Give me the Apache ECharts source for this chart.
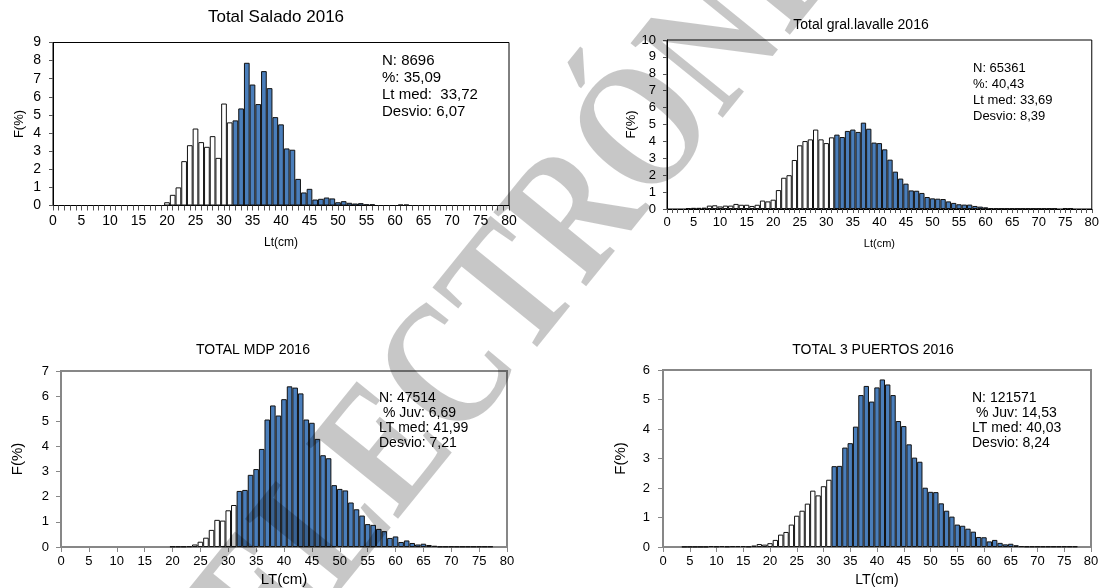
<!DOCTYPE html>
<html><head><meta charset="utf-8">
<script src="https://cdn.jsdelivr.net/npm/echarts@6/dist/echarts.min.js"></script>
<style>html,body{margin:0;padding:0;background:#fff}#c{width:1102px;height:588px}</style>
</head><body><div id="c"></div>
<script>
// Length classes (cm)
const lengths = [0,1,2,3,4,5,6,7,8,9,10,11,12,13,14,15,16,17,18,19,20,21,22,23,24,25,26,27,28,29,30,31,32,33,34,35,36,37,38,39,40,41,42,43,44,45,46,47,48,49,50,51,52,53,54,55,56,57,58,59,60,61,62,63,64,65,66,67,68,69,70,71,72,73,74,75,76,77,78,79,80];
const juvenileLimit = 32;

// F(%) per length class, 0..80 cm
const salado = [0,0,0,0,0,0,0,0,0,0, 0,0,0,0,0,0,0,0,0,0,
  0.18,0.59,1.0,2.45,3.33,4.25,3.5,3.24,3.83,2.63,
  5.63,4.59,4.7,5.36,7.88,6.68,5.6,7.42,6.48,4.88,
  4.48,3.15,3.08,1.47,0.72,0.92,0.33,0.37,0.44,0.39,
  0.18,0.24,0.15,0.11,0.13,0.07,0.07,0,0,0,
  0,0.05,0.05,0,0,0,0,0,0,0, 0,0,0,0,0,0,0,0,0,0, 0];
const lavalle = [0,0,0,0,0.05,0.07,0.07,0.08,0.2,0.22,
  0.15,0.2,0.2,0.3,0.25,0.25,0.18,0.25,0.5,0.45,
  0.55,1.12,1.85,2.0,2.9,3.77,4.02,4.12,4.7,4.12,
  3.9,4.24,4.4,4.26,4.62,4.7,4.56,5.11,4.75,3.93,
  3.9,3.53,2.92,2.21,1.8,1.5,1.1,1.08,0.95,0.71,
  0.63,0.61,0.59,0.45,0.36,0.28,0.26,0.26,0.18,0.14,
  0.1,0.05,0.03,0.03,0.03,0.03,0.03,0.03,0.03,0.03,
  0.03,0.03,0.03,0.03,0,0.05,0.05,0,0,0, 0];
const mdp = [0,0,0,0,0,0,0,0,0,0, 0,0,0,0,0,0,0,0,0,0,
  0.02,0.02,0.02,0.03,0.1,0.21,0.37,0.68,1.08,1.05,
  1.46,1.67,2.23,2.27,2.87,3.1,3.9,5.07,5.63,5.23,
  5.88,6.39,6.34,6.11,5.07,4.94,4.3,3.65,3.53,2.46,
  2.31,2.25,1.77,1.5,1.25,0.91,0.88,0.72,0.63,0.36,
  0.42,0.2,0.26,0.16,0.1,0.13,0.08,0.05,0.02,0.02,
  0.02,0.02,0.02,0.02,0.02,0.02,0.02,0.02,0,0, 0];
const puertos = [0,0,0,0,0.01,0.01,0.01,0.01,0.01,0.03,
  0.02,0.03,0.02,0.03,0.03,0.03,0.02,0.05,0.1,0.08,
  0.13,0.24,0.42,0.51,0.76,1.06,1.23,1.47,1.91,1.75,
  2.06,2.28,2.74,2.75,3.37,3.52,4.08,5.15,5.46,4.93,
  5.41,5.68,5.51,5.15,4.27,4.1,3.48,3.03,2.89,2.01,
  1.87,1.86,1.48,1.23,1.03,0.76,0.72,0.62,0.52,0.34,
  0.33,0.19,0.24,0.14,0.09,0.11,0.06,0.03,0.02,0.02,
  0.02,0.02,0.02,0.02,0.02,0.02,0.02,0.02,0,0, 0];

const titles = ['Total Salado 2016','Total gral.lavalle 2016','TOTAL MDP 2016','TOTAL 3 PUERTOS 2016'];
const xNames = ['Lt(cm)','Lt(cm)','LT(cm)','LT(cm)'];
const yName = 'F(%)';
const yMaxes = [9,10,7,6];
const statsSalado = ['N: 8696','%: 35,09','Lt med:  33,72','Desvio: 6,07'];
const statsLavalle = ['N: 65361','%: 40,43','Lt med: 33,69','Desvio: 8,39'];
const statsMdp = ['N: 47514',' % Juv: 6,69','LT med: 41,99','Desvio: 7,21'];
const statsPuertos = ['N: 121571',' % Juv: 14,53','LT med: 40,03','Desvio: 8,24'];
const watermark = 'ELECTRÓNICA';

const series = [salado, lavalle, mdp, puertos];
const stats = [statsSalado, statsLavalle, statsMdp, statsPuertos];

// layout / style
const FONT = '"Liberation Sans", Arial, sans-serif';
const L = [
  {grid:{left:53,top:42.5,width:456,height:163}, frame:'#000', fw:1, minor:true, xTick:5, yTick:4,
   title:{x:276,y:17,fs:17}, stats:{x:382,y:52,fs:15,lh:17},
   tick:{fs:14, xm:9, ym:12}, xName:{fs:12,gap:31}, yName:{fs:13,gap:27}},
  {grid:{left:667,top:40,width:425,height:169}, frame:'#000', fw:1, minor:true, xTick:4, yTick:4,
   title:{x:861,y:25,fs:14}, stats:{x:973,y:61,fs:13,lh:15.7},
   tick:{fs:13, xm:7, ym:11}, xName:{fs:11,gap:29}, yName:{fs:13,gap:28}},
  {grid:{left:61,top:371,width:446,height:176}, frame:'#878787', fw:2, minor:false, xTick:5, yTick:5,
   title:{x:253,y:350,fs:14}, stats:{x:379,y:390,fs:14,lh:15.3},
   tick:{fs:13, xm:8, ym:12}, xName:{fs:15,gap:25}, yName:{fs:15,gap:36}},
  {grid:{left:663,top:370,width:428,height:177}, frame:'#878787', fw:2, minor:false, xTick:5, yTick:5,
   title:{x:873,y:350,fs:14}, stats:{x:972,y:390,fs:14,lh:15.3},
   tick:{fs:13, xm:8, ym:13}, xName:{fs:14,gap:26}, yName:{fs:15,gap:35}}
];

const option = {
  animation:false,
  backgroundColor:'#fff',
  textStyle:{fontFamily:FONT},
  grid:[], xAxis:[], yAxis:[], series:[], graphic:[]
};

L.forEach((c,i)=>{
  option.grid.push(Object.assign({show:true, borderColor:c.frame, borderWidth:c.fw, backgroundColor:'transparent', containLabel:false}, c.grid));
  option.xAxis.push({
    type:'value', gridIndex:i, min:0, max:80, interval:5,
    axisLine:{show:true, onZero:false, lineStyle:{color:c.frame, width:c.fw}},
    axisTick:{show:true, length:c.xTick, lineStyle:{color:c.frame==='#000'?'#555':'#878787', width:1}},
    minorTick:{show:c.minor, splitNumber:5, length:c.xTick, lineStyle:{color:'#555', width:1}},
    splitLine:{show:false},
    axisLabel:{color:'#000', fontSize:c.tick.fs, margin:c.tick.xm, fontFamily:FONT},
    name:xNames[i], nameLocation:'middle', nameGap:c.xName.gap,
    nameTextStyle:{color:'#000', fontSize:c.xName.fs, fontFamily:FONT}
  });
  option.yAxis.push({
    type:'value', gridIndex:i, min:0, max:yMaxes[i], interval:1,
    axisLine:{show:true, lineStyle:{color:c.frame, width:c.fw}},
    axisTick:{show:true, length:c.yTick, lineStyle:{color:c.frame==='#000'?'#555':'#878787', width:1}},
    splitLine:{show:false},
    axisLabel:{color:'#000', fontSize:c.tick.fs, margin:c.tick.ym, fontFamily:FONT},
    name:yName, nameLocation:'middle', nameGap:c.yName.gap, nameRotate:90,
    nameTextStyle:{color:'#000', fontSize:c.yName.fs, fontFamily:FONT}
  });
  const vals = series[i];
  option.series.push({
    type:'bar', xAxisIndex:i, yAxisIndex:i, barWidth:'100%',
    data: lengths.map((l,k)=>[l, vals[k]]).filter(d=>d[1]>0),
    itemStyle:{
      color: p => p.value[0] < juvenileLimit ? '#ffffff' : '#4a7ebb',
      borderColor:'#111', borderWidth:1
    },
    emphasis:{disabled:true}, silent:true
  });
  option.graphic.push({
    type:'text', x:c.title.x, y:c.title.y, silent:true,
    style:{text:titles[i], fill:'#000', font:c.title.fs+'px '+FONT, align:'center', verticalAlign:'middle'}
  });
  option.graphic.push({
    type:'text', x:c.stats.x, y:c.stats.y, silent:true,
    style:{text:stats[i].join('\n'), fill:'#000', font:c.stats.fs+'px '+FONT, lineHeight:c.stats.lh, align:'left', verticalAlign:'top'}
  });
});

option.graphic.push({
  type:'text', x:578, y:222, rotation:51*Math.PI/180, scaleX:1, scaleY:1.25, z:100, silent:true,
  style:{text:watermark, fill:'rgba(0,0,0,0.22)', font:'bold 145px "Liberation Serif", "Times New Roman", serif', align:'center', verticalAlign:'middle'}
});

const chart = echarts.init(document.getElementById('c'), null, {renderer:'canvas'});
chart.setOption(option);
</script>
</body></html>
